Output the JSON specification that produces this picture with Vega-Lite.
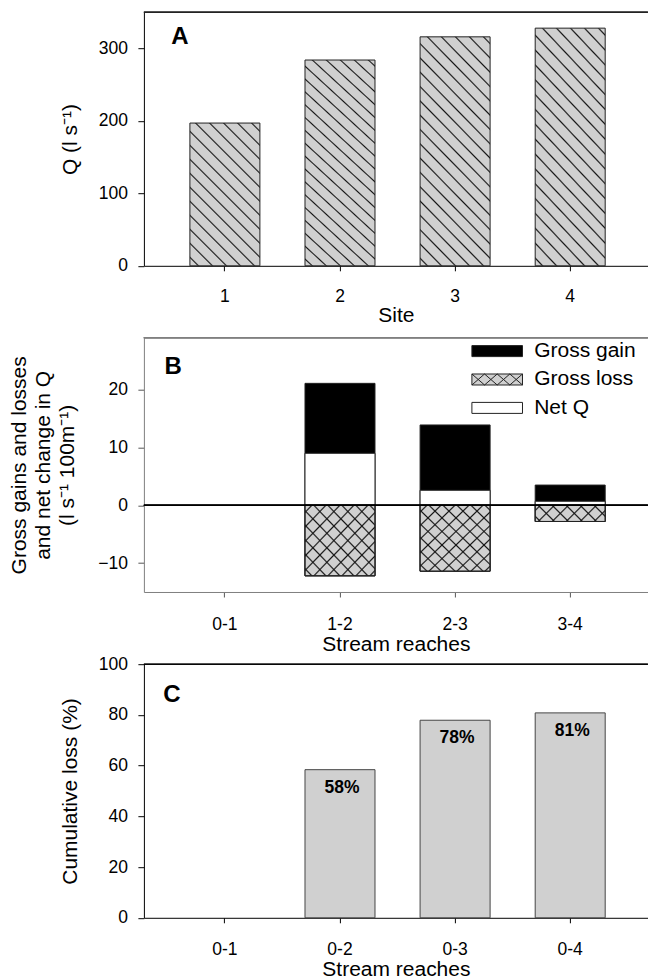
{
  "$schema": "https://vega.github.io/schema/vega-lite/v6.json",
  "padding": {"left": 7.9, "top": 11.2, "right": 0, "bottom": 0},
  "spacing": 71.5,
  "bounds": "flush",
  "config": {
    "font": "Liberation Sans",
    "view": {"stroke": null},
    "axis": {"grid": false, "labelFontSize": 17.5, "titleFontSize": 21, "titleFontWeight": "normal", "labelColor": "#000", "titleColor": "#000", "domainColor": "#000", "tickColor": "#000", "domainWidth": 1, "tickWidth": 1},
    "axisX": {"labelAngle": 0, "tickSize": 5, "labelPadding": 18},
    "axisY": {"tickSize": 6, "labelPadding": 10.5, "titleLineHeight": 24},
    "title": {"fontSize": 24, "fontWeight": "bold", "anchor": "start", "frame": "group", "color": "#000", "baseline": "top"}
  },
  "datasets": {
    "siteQ": [
      {"site": "1", "Q": 197},
      {"site": "2", "Q": 284},
      {"site": "3", "Q": 316},
      {"site": "4", "Q": 328}
    ],
    "reach": [
      {"reach": "1-2", "type": "Gross gain", "value": 21.1},
      {"reach": "2-3", "type": "Gross gain", "value": 13.9},
      {"reach": "3-4", "type": "Gross gain", "value": 3.5},
      {"reach": "1-2", "type": "Gross loss", "value": -12.2},
      {"reach": "2-3", "type": "Gross loss", "value": -11.4},
      {"reach": "3-4", "type": "Gross loss", "value": -2.8},
      {"reach": "1-2", "type": "Net Q", "value": 9.0},
      {"reach": "2-3", "type": "Net Q", "value": 2.6},
      {"reach": "3-4", "type": "Net Q", "value": 0.7}
    ],
    "cum": [
      {"reach": "0-2", "loss": 58.4, "label": "58%"},
      {"reach": "0-3", "loss": 77.9, "label": "78%"},
      {"reach": "0-4", "loss": 80.8, "label": "81%"}
    ]
  },
  "vconcat": [
    {
      "width": 504, "height": 253.6,
      "title": {"text": "A", "offset": -37.6, "dx": 27.4},
      "data": {"name": "siteQ"},
      "layer": [
        {
          "transform": [{"filter": "datum.site == '1'"}],
          "mark": {"type": "bar", "stroke": "#222", "strokeWidth": 1, "fill": {"gradient": "linear", "id": "hatchA1", "x1": 0, "y1": 1, "x2": 0.589, "y2": -0.2015, "stops": [
            {"offset": 0.0325, "color": "#d0d0d0"}, {"offset": 0.0400, "color": "#141414"}, {"offset": 0.0475, "color": "#d0d0d0"},
            {"offset": 0.0983, "color": "#d0d0d0"}, {"offset": 0.1058, "color": "#141414"}, {"offset": 0.1133, "color": "#d0d0d0"},
            {"offset": 0.1641, "color": "#d0d0d0"}, {"offset": 0.1716, "color": "#141414"}, {"offset": 0.1791, "color": "#d0d0d0"},
            {"offset": 0.2299, "color": "#d0d0d0"}, {"offset": 0.2374, "color": "#141414"}, {"offset": 0.2449, "color": "#d0d0d0"},
            {"offset": 0.2957, "color": "#d0d0d0"}, {"offset": 0.3032, "color": "#141414"}, {"offset": 0.3107, "color": "#d0d0d0"},
            {"offset": 0.3615, "color": "#d0d0d0"}, {"offset": 0.3690, "color": "#141414"}, {"offset": 0.3765, "color": "#d0d0d0"},
            {"offset": 0.4272, "color": "#d0d0d0"}, {"offset": 0.4347, "color": "#141414"}, {"offset": 0.4422, "color": "#d0d0d0"},
            {"offset": 0.4930, "color": "#d0d0d0"}, {"offset": 0.5005, "color": "#141414"}, {"offset": 0.5080, "color": "#d0d0d0"},
            {"offset": 0.5588, "color": "#d0d0d0"}, {"offset": 0.5663, "color": "#141414"}, {"offset": 0.5738, "color": "#d0d0d0"},
            {"offset": 0.6246, "color": "#d0d0d0"}, {"offset": 0.6321, "color": "#141414"}, {"offset": 0.6396, "color": "#d0d0d0"},
            {"offset": 0.6904, "color": "#d0d0d0"}, {"offset": 0.6979, "color": "#141414"}, {"offset": 0.7054, "color": "#d0d0d0"},
            {"offset": 0.7562, "color": "#d0d0d0"}, {"offset": 0.7637, "color": "#141414"}, {"offset": 0.7712, "color": "#d0d0d0"},
            {"offset": 0.8220, "color": "#d0d0d0"}, {"offset": 0.8295, "color": "#141414"}, {"offset": 0.8370, "color": "#d0d0d0"},
            {"offset": 0.8878, "color": "#d0d0d0"}, {"offset": 0.8953, "color": "#141414"}, {"offset": 0.9028, "color": "#d0d0d0"},
            {"offset": 0.9536, "color": "#d0d0d0"}, {"offset": 0.9611, "color": "#141414"}, {"offset": 0.9686, "color": "#d0d0d0"}
          ]}},
          "encoding": {
            "x": {"field": "site", "type": "nominal", "scale": {"domain": ["1", "2", "3", "4"], "paddingInner": 0.3918, "paddingOuter": 0.3853, "align": 0.5186}, "axis": {"title": "Site", "labelPadding": 16.4, "titlePadding": 0}},
            "y": {"field": "Q", "type": "quantitative", "scale": {"domain": [0, 350], "nice": false}, "axis": {"title": "Q (l s⁻¹)", "values": [0, 100, 200, 300], "titlePadding": 17.3}}
          }
        },
        {
          "transform": [{"filter": "datum.site != '1'"}],
          "mark": {"type": "bar", "stroke": "#222", "strokeWidth": 1, "fill": {"gradient": "linear", "id": "hatchA234", "x1": 0, "y1": 1, "x2": 0.3737, "y2": -0.1957, "stops": [
            {"offset": 0.0196, "color": "#d0d0d0"}, {"offset": 0.0250, "color": "#141414"}, {"offset": 0.0304, "color": "#d0d0d0"},
            {"offset": 0.0672, "color": "#d0d0d0"}, {"offset": 0.0726, "color": "#141414"}, {"offset": 0.0780, "color": "#d0d0d0"},
            {"offset": 0.1148, "color": "#d0d0d0"}, {"offset": 0.1202, "color": "#141414"}, {"offset": 0.1256, "color": "#d0d0d0"},
            {"offset": 0.1625, "color": "#d0d0d0"}, {"offset": 0.1679, "color": "#141414"}, {"offset": 0.1733, "color": "#d0d0d0"},
            {"offset": 0.2101, "color": "#d0d0d0"}, {"offset": 0.2155, "color": "#141414"}, {"offset": 0.2209, "color": "#d0d0d0"},
            {"offset": 0.2577, "color": "#d0d0d0"}, {"offset": 0.2631, "color": "#141414"}, {"offset": 0.2685, "color": "#d0d0d0"},
            {"offset": 0.3053, "color": "#d0d0d0"}, {"offset": 0.3107, "color": "#141414"}, {"offset": 0.3161, "color": "#d0d0d0"},
            {"offset": 0.3529, "color": "#d0d0d0"}, {"offset": 0.3583, "color": "#141414"}, {"offset": 0.3637, "color": "#d0d0d0"},
            {"offset": 0.4006, "color": "#d0d0d0"}, {"offset": 0.4060, "color": "#141414"}, {"offset": 0.4114, "color": "#d0d0d0"},
            {"offset": 0.4482, "color": "#d0d0d0"}, {"offset": 0.4536, "color": "#141414"}, {"offset": 0.4590, "color": "#d0d0d0"},
            {"offset": 0.4958, "color": "#d0d0d0"}, {"offset": 0.5012, "color": "#141414"}, {"offset": 0.5066, "color": "#d0d0d0"},
            {"offset": 0.5434, "color": "#d0d0d0"}, {"offset": 0.5488, "color": "#141414"}, {"offset": 0.5542, "color": "#d0d0d0"},
            {"offset": 0.5910, "color": "#d0d0d0"}, {"offset": 0.5964, "color": "#141414"}, {"offset": 0.6018, "color": "#d0d0d0"},
            {"offset": 0.6387, "color": "#d0d0d0"}, {"offset": 0.6441, "color": "#141414"}, {"offset": 0.6495, "color": "#d0d0d0"},
            {"offset": 0.6863, "color": "#d0d0d0"}, {"offset": 0.6917, "color": "#141414"}, {"offset": 0.6971, "color": "#d0d0d0"},
            {"offset": 0.7339, "color": "#d0d0d0"}, {"offset": 0.7393, "color": "#141414"}, {"offset": 0.7447, "color": "#d0d0d0"},
            {"offset": 0.7815, "color": "#d0d0d0"}, {"offset": 0.7869, "color": "#141414"}, {"offset": 0.7923, "color": "#d0d0d0"},
            {"offset": 0.8291, "color": "#d0d0d0"}, {"offset": 0.8345, "color": "#141414"}, {"offset": 0.8399, "color": "#d0d0d0"},
            {"offset": 0.8768, "color": "#d0d0d0"}, {"offset": 0.8822, "color": "#141414"}, {"offset": 0.8876, "color": "#d0d0d0"},
            {"offset": 0.9244, "color": "#d0d0d0"}, {"offset": 0.9298, "color": "#141414"}, {"offset": 0.9352, "color": "#d0d0d0"},
            {"offset": 0.9720, "color": "#d0d0d0"}, {"offset": 0.9774, "color": "#141414"}, {"offset": 0.9828, "color": "#d0d0d0"}
          ]}},
          "encoding": {
            "x": {"field": "site", "type": "nominal"},
            "y": {"field": "Q", "type": "quantitative"}
          }
        },
        {
          "mark": {"type": "rule", "color": "#222", "strokeWidth": 1},
          "encoding": {"y": {"datum": 350}}
        }
      ]
    },
    {
      "width": 504, "height": 254.3,
      "title": {"text": "B", "offset": -41.9, "dx": 20.6},
      "data": {"name": "reach"},
      "layer": [
        {
          "mark": {"type": "bar", "stroke": "#222", "strokeWidth": 1},
          "encoding": {
            "x": {"field": "reach", "type": "nominal", "scale": {"domain": ["0-1", "1-2", "2-3", "3-4"], "paddingInner": 0.3918, "paddingOuter": 0.3853, "align": 0.5186}, "axis": {"title": "Stream reaches", "labelPadding": 18.7, "titlePadding": 0.5, "domainColor": "#808080", "tickColor": "#555"}},
            "y": {"field": "value", "type": "quantitative", "stack": null, "scale": {"domain": [-15, 29], "nice": false}, "axis": {"title": ["Gross gains and losses", "and net change in Q", "(l s⁻¹ 100m⁻¹)"], "values": [-10, 0, 10, 20], "titlePadding": 19.9, "domainColor": "#808080", "tickColor": "#555"}},
            "fill": {"field": "type", "type": "nominal", "scale": {"domain": ["Gross gain", "Gross loss", "Net Q"], "range": ["#000000", "#d0d0d0", "#ffffff"]}, "legend": {"orient": "none", "legendX": 342.8, "legendY": 328.4, "title": null, "symbolType": "M-4.6,-1H4.6V1H-4.6Z", "symbolSize": 121, "symbolStrokeColor": "#222", "symbolStrokeWidth": 1, "labelFontSize": 21, "labelOffset": 26.5, "rowPadding": 6.4, "padding": 0, "labelColor": "#000", "labelLimit": 0,
              "encode": {"symbols": {"update": {"shape": [
                {"test": "datum.value === 'Gross loss'", "value": "M-4.6,-1H4.6V1H-4.6Z M-4.6,-1L-2.3,1 M-2.3,-1L0,1 M0,-1L2.3,1 M2.3,-1L4.6,1 M-4.6,1L-2.3,-1 M-2.3,1L0,-1 M0,1L2.3,-1 M2.3,1L4.6,-1"},
                {"value": "M-4.6,-1H4.6V1H-4.6Z"}
              ]}}}}}
          }
        },
        {
          "transform": [{"filter": "datum.type == 'Gross loss' && datum.reach != '3-4'"}],
          "mark": {"type": "bar", "stroke": "#222", "strokeWidth": 1, "fill": {"gradient": "linear", "id": "hatchL12a", "x1": 0, "y1": 1, "x2": 1.0143, "y2": 0.0147, "stops": [
            {"offset": 0.0384, "color": "#d0d0d0"}, {"offset": 0.0500, "color": "#141414"}, {"offset": 0.0616, "color": "#d0d0d0"},
            {"offset": 0.1398, "color": "#d0d0d0"}, {"offset": 0.1514, "color": "#141414"}, {"offset": 0.1630, "color": "#d0d0d0"},
            {"offset": 0.2412, "color": "#d0d0d0"}, {"offset": 0.2528, "color": "#141414"}, {"offset": 0.2644, "color": "#d0d0d0"},
            {"offset": 0.3427, "color": "#d0d0d0"}, {"offset": 0.3543, "color": "#141414"}, {"offset": 0.3659, "color": "#d0d0d0"},
            {"offset": 0.4441, "color": "#d0d0d0"}, {"offset": 0.4557, "color": "#141414"}, {"offset": 0.4673, "color": "#d0d0d0"},
            {"offset": 0.5455, "color": "#d0d0d0"}, {"offset": 0.5571, "color": "#141414"}, {"offset": 0.5687, "color": "#d0d0d0"},
            {"offset": 0.6469, "color": "#d0d0d0"}, {"offset": 0.6585, "color": "#141414"}, {"offset": 0.6701, "color": "#d0d0d0"},
            {"offset": 0.7484, "color": "#d0d0d0"}, {"offset": 0.7600, "color": "#141414"}, {"offset": 0.7716, "color": "#d0d0d0"},
            {"offset": 0.8498, "color": "#d0d0d0"}, {"offset": 0.8614, "color": "#141414"}, {"offset": 0.8730, "color": "#d0d0d0"},
            {"offset": 0.9512, "color": "#d0d0d0"}, {"offset": 0.9628, "color": "#141414"}, {"offset": 0.9744, "color": "#d0d0d0"}
          ]}},
          "encoding": {
            "x": {"field": "reach", "type": "nominal"},
            "y": {"field": "value", "type": "quantitative", "stack": null}
          }
        },
        {
          "transform": [{"filter": "datum.type == 'Gross loss' && datum.reach != '3-4'"}],
          "mark": {"type": "bar", "stroke": "#222", "strokeWidth": 1, "fill": {"gradient": "linear", "id": "hatchL12b", "x1": 0, "y1": 0, "x2": 1.0143, "y2": 0.9853, "stops": [
            {"offset": 0.0384, "color": "rgba(20,20,20,0)"}, {"offset": 0.0500, "color": "#141414"}, {"offset": 0.0616, "color": "rgba(20,20,20,0)"},
            {"offset": 0.1398, "color": "rgba(20,20,20,0)"}, {"offset": 0.1514, "color": "#141414"}, {"offset": 0.1630, "color": "rgba(20,20,20,0)"},
            {"offset": 0.2412, "color": "rgba(20,20,20,0)"}, {"offset": 0.2528, "color": "#141414"}, {"offset": 0.2644, "color": "rgba(20,20,20,0)"},
            {"offset": 0.3427, "color": "rgba(20,20,20,0)"}, {"offset": 0.3543, "color": "#141414"}, {"offset": 0.3659, "color": "rgba(20,20,20,0)"},
            {"offset": 0.4441, "color": "rgba(20,20,20,0)"}, {"offset": 0.4557, "color": "#141414"}, {"offset": 0.4673, "color": "rgba(20,20,20,0)"},
            {"offset": 0.5455, "color": "rgba(20,20,20,0)"}, {"offset": 0.5571, "color": "#141414"}, {"offset": 0.5687, "color": "rgba(20,20,20,0)"},
            {"offset": 0.6469, "color": "rgba(20,20,20,0)"}, {"offset": 0.6585, "color": "#141414"}, {"offset": 0.6701, "color": "rgba(20,20,20,0)"},
            {"offset": 0.7484, "color": "rgba(20,20,20,0)"}, {"offset": 0.7600, "color": "#141414"}, {"offset": 0.7716, "color": "rgba(20,20,20,0)"},
            {"offset": 0.8498, "color": "rgba(20,20,20,0)"}, {"offset": 0.8614, "color": "#141414"}, {"offset": 0.8730, "color": "rgba(20,20,20,0)"},
            {"offset": 0.9512, "color": "rgba(20,20,20,0)"}, {"offset": 0.9628, "color": "#141414"}, {"offset": 0.9744, "color": "rgba(20,20,20,0)"}
          ]}},
          "encoding": {
            "x": {"field": "reach", "type": "nominal"},
            "y": {"field": "value", "type": "quantitative", "stack": null}
          }
        },
        {
          "transform": [{"filter": "datum.type == 'Gross loss' && datum.reach == '3-4'"}],
          "mark": {"type": "bar", "stroke": "#222", "strokeWidth": 1, "fill": {"gradient": "linear", "id": "hatchL34a", "x1": 0, "y1": 1, "x2": 1.1689, "y2": 0.7295, "stops": [
            {"offset": 0.0414, "color": "#d0d0d0"}, {"offset": 0.0600, "color": "#141414"}, {"offset": 0.0786, "color": "#d0d0d0"},
            {"offset": 0.2038, "color": "#d0d0d0"}, {"offset": 0.2224, "color": "#141414"}, {"offset": 0.2410, "color": "#d0d0d0"},
            {"offset": 0.3662, "color": "#d0d0d0"}, {"offset": 0.3848, "color": "#141414"}, {"offset": 0.4034, "color": "#d0d0d0"},
            {"offset": 0.5286, "color": "#d0d0d0"}, {"offset": 0.5472, "color": "#141414"}, {"offset": 0.5658, "color": "#d0d0d0"},
            {"offset": 0.6910, "color": "#d0d0d0"}, {"offset": 0.7096, "color": "#141414"}, {"offset": 0.7282, "color": "#d0d0d0"},
            {"offset": 0.8534, "color": "#d0d0d0"}, {"offset": 0.8720, "color": "#141414"}, {"offset": 0.8906, "color": "#d0d0d0"}
          ]}},
          "encoding": {
            "x": {"field": "reach", "type": "nominal"},
            "y": {"field": "value", "type": "quantitative", "stack": null}
          }
        },
        {
          "transform": [{"filter": "datum.type == 'Gross loss' && datum.reach == '3-4'"}],
          "mark": {"type": "bar", "stroke": "#222", "strokeWidth": 1, "fill": {"gradient": "linear", "id": "hatchL34b", "x1": 0, "y1": 0, "x2": 1.1689, "y2": 0.2705, "stops": [
            {"offset": 0.0414, "color": "rgba(20,20,20,0)"}, {"offset": 0.0600, "color": "#141414"}, {"offset": 0.0786, "color": "rgba(20,20,20,0)"},
            {"offset": 0.2038, "color": "rgba(20,20,20,0)"}, {"offset": 0.2224, "color": "#141414"}, {"offset": 0.2410, "color": "rgba(20,20,20,0)"},
            {"offset": 0.3662, "color": "rgba(20,20,20,0)"}, {"offset": 0.3848, "color": "#141414"}, {"offset": 0.4034, "color": "rgba(20,20,20,0)"},
            {"offset": 0.5286, "color": "rgba(20,20,20,0)"}, {"offset": 0.5472, "color": "#141414"}, {"offset": 0.5658, "color": "rgba(20,20,20,0)"},
            {"offset": 0.6910, "color": "rgba(20,20,20,0)"}, {"offset": 0.7096, "color": "#141414"}, {"offset": 0.7282, "color": "rgba(20,20,20,0)"},
            {"offset": 0.8534, "color": "rgba(20,20,20,0)"}, {"offset": 0.8720, "color": "#141414"}, {"offset": 0.8906, "color": "rgba(20,20,20,0)"}
          ]}},
          "encoding": {
            "x": {"field": "reach", "type": "nominal"},
            "y": {"field": "value", "type": "quantitative", "stack": null}
          }
        },
        {
          "mark": {"type": "rule", "color": "#000", "strokeWidth": 1},
          "encoding": {"y": {"datum": 0}}
        },
        {
          "mark": {"type": "rule", "color": "#808080", "strokeWidth": 1},
          "encoding": {"y": {"datum": 29}}
        }
      ]
    },
    {
      "width": 504, "height": 253.6,
      "title": {"text": "C", "offset": -52.1, "dx": 19.4},
      "data": {"name": "cum"},
      "layer": [
        {
          "mark": {"type": "bar", "fill": "#d0d0d0", "stroke": "#444", "strokeWidth": 1},
          "encoding": {
            "x": {"field": "reach", "type": "nominal", "scale": {"domain": ["0-1", "0-2", "0-3", "0-4"], "paddingInner": 0.3918, "paddingOuter": 0.3853, "align": 0.5186}, "axis": {"title": "Stream reaches", "labelPadding": 18, "titlePadding": 0.5}},
            "y": {"field": "loss", "type": "quantitative", "scale": {"domain": [0, 100], "nice": false}, "axis": {"title": "Cumulative loss (%)", "values": [0, 20, 40, 60, 80, 100], "titlePadding": 17.3}}
          }
        },
        {
          "mark": {"type": "text", "baseline": "top", "dy": 9, "dx": 2, "fontWeight": "bold", "fontSize": 17.5, "color": "#000"},
          "encoding": {
            "x": {"field": "reach", "type": "nominal"},
            "y": {"field": "loss", "type": "quantitative"},
            "text": {"field": "label"}
          }
        },
        {
          "mark": {"type": "rule", "color": "#000", "strokeWidth": 1},
          "encoding": {"y": {"datum": 100}}
        }
      ]
    }
  ]
}
